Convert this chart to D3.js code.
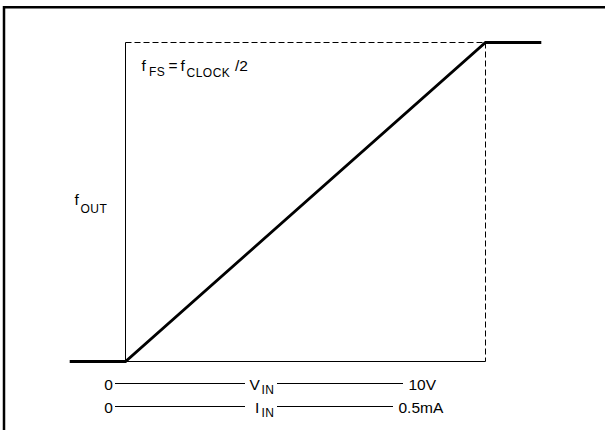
<!DOCTYPE html>
<html>
<head>
<meta charset="utf-8">
<style>
  html, body { margin: 0; padding: 0; background: #fff; overflow: hidden; }
  svg { display: block; font-family: "Liberation Sans", Arial, sans-serif; }
</style>
</head>
<body>
<div id="chart"></div>
<script src="https://d3js.org/d3.v7.min.js"></script>
<script>
    // transfer curve: input voltage (V) vs output frequency (fraction of f_FS)
    const vin = [-1.55, 0, 10, 11.55];
    const fout = [0, 0, 1, 1];
    const vinRange = [0, 10];
    const iinRange = [0, 0.5];
    const vinLabels = ["0", "10V"];
    const iinLabels = ["0", "0.5mA"];

    const width = 605, height = 430;
    const svg = d3.select("#chart").append("svg")
        .attr("width", width)
        .attr("height", height);

    const x = d3.scaleLinear().domain(vinRange).range([125.5, 485.5]);
    const y = d3.scaleLinear().domain([0, 1]).range([361.5, 42.5]);
    const xi = d3.scaleLinear().domain(iinRange).range([125.5, 485.5]);

    // outer frame (cropped at right and bottom)
    svg.append("path")
        .attr("d", `M4,${height + 5} L4,7.25 L${width + 5},7.25`)
        .attr("fill", "none")
        .attr("stroke", "#000")
        .attr("stroke-width", 2.5);

    // solid axes
    svg.append("line")
        .attr("x1", x(0)).attr("x2", x(0))
        .attr("y1", y(0)).attr("y2", y(1))
        .attr("stroke", "#000").attr("stroke-width", 1);
    svg.append("line")
        .attr("x1", x(0)).attr("x2", x(10))
        .attr("y1", y(0)).attr("y2", y(0))
        .attr("stroke", "#000").attr("stroke-width", 1);

    // dashed full-scale box
    svg.append("path")
        .attr("d", `M${x(0)},${y(1)} L${x(10)},${y(1)} L${x(10)},${y(0)}`)
        .attr("fill", "none")
        .attr("stroke", "#000")
        .attr("stroke-width", 1)
        .attr("stroke-dasharray", "6,3");

    // transfer curve
    const line = d3.line()
        .x((d, i) => x(vin[i]))
        .y((d, i) => y(fout[i]));
    svg.append("path")
        .datum(vin)
        .attr("d", line)
        .attr("fill", "none")
        .attr("stroke", "#000")
        .attr("stroke-width", 2.8);

    const mainSize = 15.5, subSize = 12;

    // label pieces: [text, x, baseline, isSub]
    function pieces(list) {
        list.forEach(p => {
            svg.append("text")
                .attr("x", p[1]).attr("y", p[2])
                .attr("font-size", p[3] ? subSize : mainSize)
                .attr("letter-spacing", p[3] ? 0.5 : 0)
                .text(p[0]);
        });
    }

    pieces([
        ["f", 141.5, 71], ["FS", 149, 76, true],
        ["=", 168.5, 71], ["f", 180.5, 71], ["CLOCK", 186.5, 77, true],
        ["/2", 235, 71]
    ]);
    pieces([["f", 74.5, 205], ["OUT", 80.5, 213, true]]);

    // input scales
    const rows = [
        { yp: 383.5, sc: x, dom: vinRange, labels: vinLabels, name: "V", nx: 249.5, lineEnd: 403 },
        { yp: 406.5, sc: xi, dom: iinRange, labels: iinLabels, name: "I", nx: 255, lineEnd: 393 }
    ];
    rows.forEach(r => {
        svg.append("text")
            .attr("x", r.sc(r.dom[0]) - 17).attr("y", r.yp + 6.5)
            .attr("font-size", mainSize).attr("text-anchor", "middle")
            .text(r.labels[0]);
        svg.append("line")
            .attr("x1", 115).attr("x2", 245)
            .attr("y1", r.yp).attr("y2", r.yp)
            .attr("stroke", "#000").attr("stroke-width", 1);
        svg.append("line")
            .attr("x1", 277).attr("x2", r.lineEnd)
            .attr("y1", r.yp).attr("y2", r.yp)
            .attr("stroke", "#000").attr("stroke-width", 1);
        pieces([
            [r.name, r.nx, r.yp + 6.5],
            ["IN", 261.5, r.yp + 10, true]
        ]);
        svg.append("text")
            .attr("x", r.lineEnd + 5.5).attr("y", r.yp + 6.5)
            .attr("font-size", mainSize)
            .text(r.labels[1]);
    });
</script>
</body>
</html>
